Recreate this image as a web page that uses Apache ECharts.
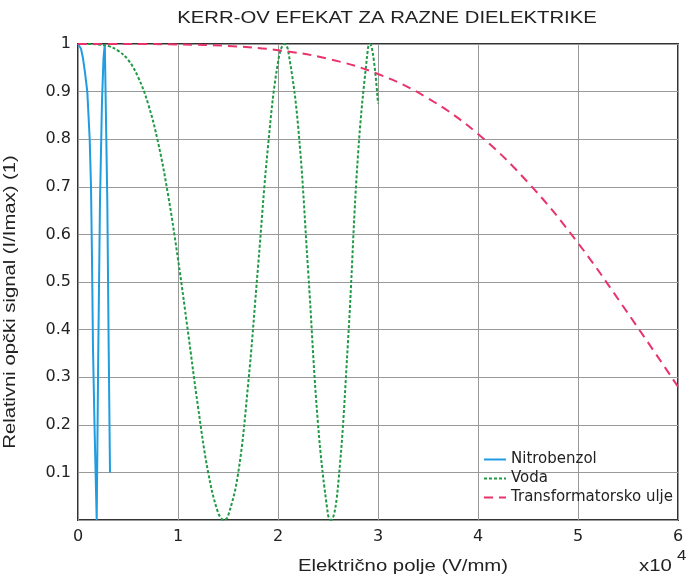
<!DOCTYPE html>
<html>
<head>
<meta charset="utf-8">
<script src="https://cdn.jsdelivr.net/npm/echarts@6/dist/echarts.min.js"></script>
<style>
html,body{margin:0;padding:0;background:#fff;}
#c{width:689px;height:578px;}
</style>
</head>
<body>
<div id="c"></div>
<script>
// x values in units of 10^4 V/mm
var nitroX = [0, 0.03, 0.05, 0.07, 0.093, 0.105, 0.117, 0.13, 0.14, 0.15, 0.165, 0.187, 0.203, 0.22, 0.24, 0.255, 0.268, 0.293, 0.307, 0.32];
var nitroY = [1, 0.99, 0.97, 0.94, 0.9, 0.85, 0.8, 0.7, 0.55, 0.36, 0.2, 0.0, 0.36, 0.67, 0.88, 0.97, 1.0, 0.67, 0.36, 0.1];

var vodaX = [0, 0.1, 0.2, 0.3, 0.4, 0.5, 0.6, 0.7, 0.8, 0.9, 1.0, 1.1, 1.2, 1.3, 1.4, 1.46, 1.5, 1.6, 1.7, 1.8, 1.9, 2.0, 2.065, 2.1, 2.2, 2.3, 2.4, 2.5, 2.53, 2.6, 2.7, 2.8, 2.9, 2.92, 3.0];
var vodaY = [1, 1, 0.999, 0.996, 0.986, 0.967, 0.931, 0.875, 0.794, 0.684, 0.548, 0.395, 0.238, 0.102, 0.016, 0, 0.008, 0.096, 0.282, 0.531, 0.785, 0.962, 1, 0.988, 0.830, 0.528, 0.202, 0.011, 0, 0.071, 0.375, 0.767, 0.992, 1, 0.875];

var uljeX = [0, 0.5, 1, 1.5, 2, 2.5, 3, 3.5, 4, 4.5, 5, 5.5, 6];
var uljeY = [1, 1, 0.999, 0.996, 0.987, 0.969, 0.937, 0.886, 0.811, 0.709, 0.582, 0.434, 0.280];

var seriesNames = ['Nitrobenzol', 'Voda', 'Transformatorsko ulje'];
var xTicks = [0, 1, 2, 3, 4, 5, 6];
var titleText = 'KERR-OV EFEKAT ZA RAZNE DIELEKTRIKE';
var xName = 'Električno polje (V/mm)';
var yName = 'Relativni opčki signal (I/Imax) (1)';

function pairs(xs, ys) { return xs.map(function (x, i) { return [x, ys[i]]; }); }

var chart = echarts.init(document.getElementById('c'));
var lib = '"Liberation Sans", Arial, sans-serif';
var dv = '"DejaVu Sans", sans-serif';
chart.setOption({
  animation: false,
  backgroundColor: '#ffffff',
  grid: { left: 78, right: 11, top: 44, bottom: 58, show: true, borderColor: '#333', borderWidth: 2, backgroundColor: 'transparent' },
  legend: {
    orient: 'vertical', left: 478, top: 447, itemWidth: 22, itemHeight: 14, itemGap: 4,
    textStyle: { fontFamily: dv, fontSize: 15, color: '#222' },
    itemStyle: { opacity: 0 },
    data: seriesNames
  },
  xAxis: {
    type: 'value', min: xTicks[0], max: xTicks[xTicks.length - 1], interval: 1,
    axisLine: { show: false }, axisTick: { show: false },
    splitLine: { show: true, lineStyle: { color: '#999', width: 1 } },
    axisLabel: { fontFamily: dv, fontSize: 16, color: '#222', margin: 9 }
  },
  yAxis: {
    type: 'value', min: 0, max: 1, interval: 0.1,
    axisLine: { show: false }, axisTick: { show: false },
    splitLine: { show: true, lineStyle: { color: '#999', width: 1 } },
    axisLabel: { fontFamily: dv, fontSize: 16, color: '#222', margin: 7,
      formatter: function (v) { return v === 0 ? '' : String(Math.round(v * 10) / 10); } }
  },
  graphic: [
    { type: 'text', x: 387, y: 19, scaleX: 1.27, style: { text: titleText, font: '16px ' + lib, fill: '#222', textAlign: 'center', textVerticalAlign: 'middle' } },
    { type: 'text', x: 403, y: 567, scaleX: 1.27, style: { text: xName, font: '16px ' + lib, fill: '#222', textAlign: 'center', textVerticalAlign: 'middle' } },
    { type: 'text', x: 10, y: 302, rotation: Math.PI / 2, scaleX: 1.19, style: { text: yName, font: '17px ' + lib, fill: '#222', textAlign: 'center', textVerticalAlign: 'middle' } },
    { type: 'text', x: 639, y: 567, scaleX: 1.27, style: { text: 'x10', font: '16px ' + lib, fill: '#222', textAlign: 'left', textVerticalAlign: 'middle' } },
    { type: 'text', x: 677, y: 556, scaleX: 1.2, style: { text: '4', font: '14px ' + lib, fill: '#222', textAlign: 'left', textVerticalAlign: 'middle' } }
  ],
  series: [
    { name: seriesNames[0], type: 'line', data: pairs(nitroX, nitroY), symbol: 'none', smooth: false,
      lineStyle: { color: '#1f9de0', width: 2 }, itemStyle: { color: '#1f9de0' }, z: 3 },
    { name: seriesNames[1], type: 'line', data: pairs(vodaX, vodaY), symbol: 'none', smooth: 0.4,
      lineStyle: { color: '#1e9a45', width: 2, type: [3, 2] }, itemStyle: { color: '#1e9a45' }, z: 4 },
    { name: seriesNames[2], type: 'line', data: pairs(uljeX, uljeY), symbol: 'none', smooth: 0.4,
      lineStyle: { color: '#e8336b', width: 2, type: [9, 6] }, itemStyle: { color: '#e8336b' }, z: 5 }
  ]
});
</script>
</body>
</html>
